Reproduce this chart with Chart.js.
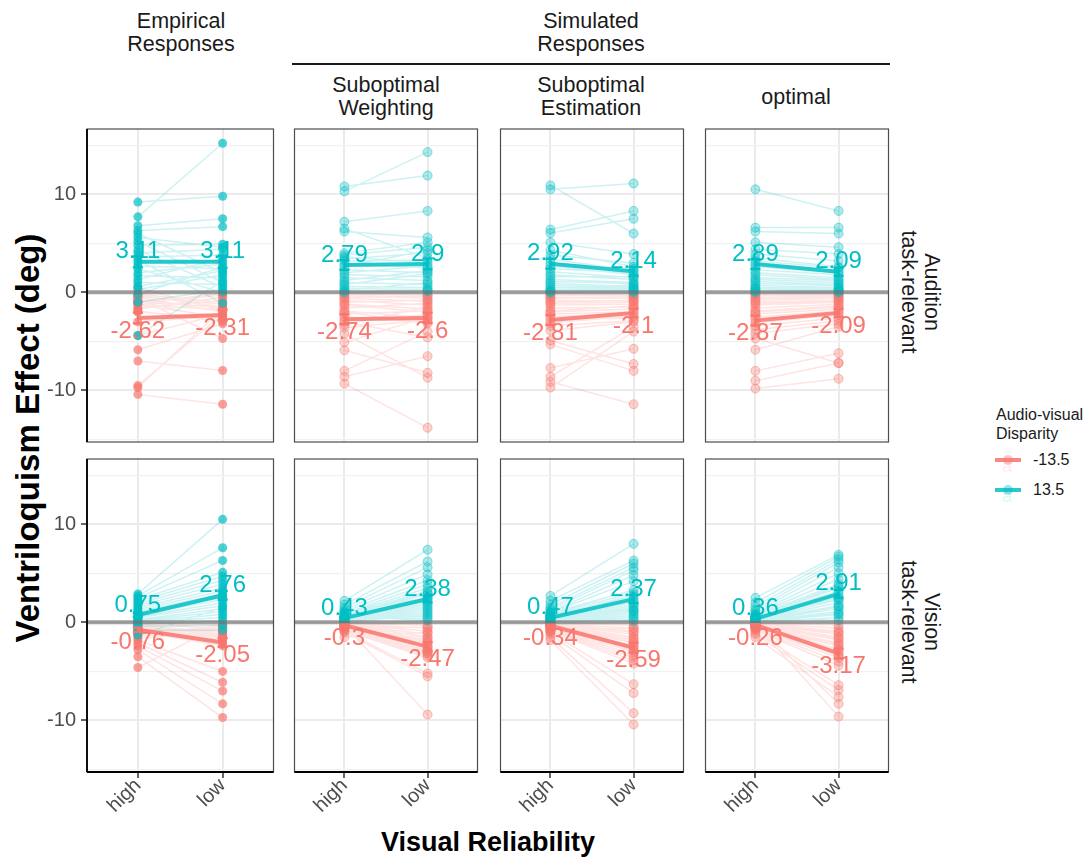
<!DOCTYPE html>
<html><head><meta charset="utf-8">
<script src="https://cdn.jsdelivr.net/npm/chart.js@4.4.0/dist/chart.umd.min.js"></script>
<style>
html,body{margin:0;padding:0;background:#fff;}
#wrap{position:relative;width:1086px;height:857px;overflow:hidden;font-family:"Liberation Sans",Arial,Helvetica,sans-serif;}
canvas{position:absolute;}
.t{position:absolute;color:#1a1a1a;font-size:21.5px;line-height:23px;text-align:center;white-space:nowrap;}
.rot{transform:rotate(90deg);}
.leg{position:absolute;font-size:16px;color:#1a1a1a;white-space:nowrap;}
</style></head><body><div id="wrap">
<div class="t" style="left:81px;top:10px;width:200px;">Empirical<br>Responses</div>
<div class="t" style="left:441px;top:10px;width:300px;">Simulated<br>Responses</div>
<div style="position:absolute;left:292px;top:63px;width:598px;height:2px;background:#1a1a1a;"></div>
<div class="t" style="left:286px;top:74px;width:200px;">Suboptimal<br>Weighting</div>
<div class="t" style="left:491px;top:74px;width:200px;">Suboptimal<br>Estimation</div>
<div class="t" style="left:696px;top:86px;width:200px;">optimal</div>
<div class="t rot" style="left:763px;top:269px;width:313px;height:46px;">Audition<br>task-relevant</div>
<div class="t rot" style="left:763px;top:599px;width:313px;height:46px;">Vision<br>task-relevant</div>
<div style="position:absolute;left:-272px;top:420px;width:600px;height:36px;transform:rotate(-90deg);text-align:center;font-weight:bold;font-size:33px;line-height:36px;color:#000;white-space:nowrap;">Ventriloquism Effect (deg)</div>
<div style="position:absolute;left:188px;top:827px;width:600px;height:30px;text-align:center;font-weight:bold;font-size:27px;line-height:30px;color:#000;">Visual Reliability</div>
<div class="leg" style="left:996px;top:405px;line-height:19px;">Audio-visual<br>Disparity</div>
<div id="legendKeys"></div>
</div>
<script>
// ---------- data ----------
const categories = ['high', 'low'];
const disparityLevels = ['-13.5', '13.5'];
const columnLabels = ['Empirical Responses', 'Suboptimal Weighting', 'Suboptimal Estimation', 'optimal'];
const rowLabels = ['Audition task-relevant', 'Vision task-relevant'];
const yTicks = [-15, -10, -5, 0, 5, 10, 15];
const zeroLine = 0;

// Panel 1: Empirical / Audition
const p1TealHigh = [7.7, 9.2, 6.8, 6.3, 6.0, 5.6, 5.2, 4.8, 4.3, 4.0, 3.6, 3.3, 3.0, 2.7, 2.4, 2.0, 1.7, 1.3, 1.0, 0.6, 0.3, -0.2, -1.0, -4.4];
const p1TealLow  = [15.2, 9.8, 7.5, 6.7, 2.0, 4.6, 1.0, 4.9, 0.5, 4.4, 3.8, -1.1, 3.2, 2.4, 0.0, 2.9, 1.5, 3.5, 0.8, 2.2, 1.8, 2.6, 0.3, 1.2];
const p1RedHigh  = [-0.2, -0.6, -1.0, -1.3, -1.6, -1.9, -1.0, -0.5, -0.3, -1.7, -0.9, -1.2, 0.5, -0.4, -4.4, -5.85, -7.0, -9.5, -9.7, -10.4, -1.1, -2.0, -0.8, -3.0];
const p1RedLow   = [-1.0, -4.7, -0.3, -2.5, -0.8, -3.0, -1.5, -2.0, -1.5, -0.5, -2.8, -1.8, -1.9, -1.2, -2.2, -3.2, -7.96, -2.2, -1.7, -11.4, -0.1, -2.6, -1.6, -2.4];
// Panel 2: Suboptimal Weighting / Audition
const p2TealHigh = [10.3, 10.8, 7.2, 6.5, 6.2, 3.8, 3.4, 4.0, 3.6, 3.2, 2.9, 2.6, 2.3, 2.0, 1.8, 1.5, 1.2, 1.0, 0.8, 0.6, 0.4, 0.2, 0.1, 0.0];
const p2TealLow  = [14.3, 11.9, 8.3, 3.5, 5.6, 4.6, 4.0, 5.1, 3.0, 3.3, 2.5, 4.3, 2.0, 2.7, 1.6, 1.2, 2.2, 0.8, 1.9, 0.5, 0.3, 1.0, 0.2, 0.1];
const p2RedHigh  = [-0.1, -0.3, -0.5, -0.8, -1.0, -1.3, -1.6, -1.9, -2.2, -2.5, -2.8, -3.0, -3.3, -3.6, -4.2, -5.1, -5.9, -8.0, -8.6, -9.3, -0.6, -1.2, -2.0, -0.2];
const p2RedLow   = [-0.2, -0.6, -0.4, -1.3, -0.8, -2.0, -1.1, -2.6, -1.9, -3.0, -2.3, -4.6, -1.5, -2.8, -8.7, -2.5, -8.2, -4.0, -6.5, -13.8, -0.9, -1.7, -3.2, -0.3];
// Panel 3: Suboptimal Estimation / Audition
const p3TealHigh = [10.9, 10.5, 6.4, 6.05, 5.1, 4.3, 3.8, 3.4, 3.0, 2.7, 2.4, 2.1, 1.8, 1.6, 1.3, 1.1, 0.9, 0.7, 0.5, 0.3, 0.2, 0.1, 0.05, 0.0];
const p3TealLow  = [6.0, 11.1, 8.3, 7.5, 3.9, 2.6, 3.0, 2.2, 2.4, 1.8, 2.0, 1.5, 1.3, 1.6, 1.0, 0.9, 0.6, 0.5, 0.4, 0.3, 0.2, 0.8, 0.1, 0.0];
const p3RedHigh  = [-0.1, -0.3, -0.5, -0.8, -1.0, -1.3, -1.6, -1.9, -2.2, -2.5, -2.8, -3.1, -3.4, -3.9, -4.9, -5.3, -7.7, -8.6, -9.1, -9.7, -0.6, -1.1, -2.0, -0.2];
const p3RedLow   = [-0.2, -0.4, -0.6, -0.9, -0.8, -1.2, -1.5, -1.4, -2.0, -2.1, -2.6, -2.4, -2.9, -3.0, -7.3, -8.0, -5.75, -3.5, -11.4, -4.0, -0.5, -1.0, -1.7, -0.3];
// Panel 4: optimal / Audition
const p4TealHigh = [10.5, 6.6, 6.2, 5.1, 4.4, 3.9, 3.5, 3.2, 2.9, 2.6, 2.3, 2.0, 1.8, 1.5, 1.3, 1.1, 0.9, 0.7, 0.5, 0.4, 0.3, 0.2, 0.1, 0.0];
const p4TealLow  = [8.3, 6.6, 6.0, 4.6, 3.9, 3.2, 2.6, 2.5, 2.2, 2.0, 1.8, 1.5, 1.3, 1.2, 1.0, 0.8, 0.7, 0.5, 0.4, 0.3, 0.2, 0.2, 0.1, 0.0];
const p4RedHigh  = [-0.1, -0.3, -0.5, -0.8, -1.0, -1.3, -1.6, -1.9, -2.2, -2.5, -2.8, -3.1, -3.4, -3.8, -4.7, -5.85, -8.0, -9.0, -9.8, -0.6, -1.1, -2.0, -0.2, -4.2];
const p4RedLow   = [-0.1, -0.3, -0.4, -0.6, -0.8, -1.0, -1.2, -1.4, -1.7, -1.9, -2.1, -2.3, -2.6, -2.9, -7.2, -3.5, -6.2, -7.2, -8.8, -0.5, -0.9, -1.5, -0.2, -3.2];
// Panel 5: Empirical / Vision
const p5TealHigh = [2.9, 2.7, 2.5, 2.3, 2.1, 1.9, 1.7, 1.5, 1.3, 1.1, 0.9, 0.8, 0.6, 0.5, 0.3, 0.2, 0.1, 0.0, -0.2, -0.4, -0.8, -1.3, 1.0, 0.4];
const p5TealLow  = [10.5, 7.6, 6.3, 5.1, 4.7, 4.3, 3.9, 3.5, 3.2, 2.9, 2.6, 2.3, 2.0, 1.7, 1.4, 1.1, 0.8, 0.5, 0.2, -0.3, -0.8, 1.5, 2.5, 3.0];
const p5RedHigh  = [-0.1, -0.2, -0.3, -0.4, -0.5, -0.6, -0.7, -0.8, -0.9, -1.0, -1.1, -1.2, -1.4, -1.6, -1.8, -2.1, -2.4, -2.8, -3.5, -4.6, 0.2, -0.3, -0.6, -1.0];
const p5RedLow   = [-0.3, -0.6, -1.0, -1.3, -1.6, -1.8, -2.0, -2.2, -2.4, -1.4, -0.4, -0.6, -0.9, -1.1, -5.0, -6.1, -7.0, -8.3, -9.7, -0.2, -0.8, -1.2, -1.5, -0.5];
// Panel 6: Suboptimal Weighting / Vision
const p6TealHigh = [2.2, 1.8, 1.5, 1.3, 1.1, 0.9, 0.8, 0.7, 0.6, 0.5, 0.4, 0.35, 0.3, 0.25, 0.2, 0.15, 0.1, 0.05, 0.0, 0.45, 0.55, 0.65, 0.75, 1.0];
const p6TealLow  = [7.4, 6.2, 5.6, 4.9, 4.3, 3.9, 3.5, 3.2, 2.9, 2.6, 2.4, 2.2, 2.0, 1.8, 1.6, 1.4, 1.2, 1.0, 0.8, 0.6, 0.4, 0.2, 3.0, 2.5];
const p6RedHigh  = [-0.05, -0.1, -0.15, -0.2, -0.25, -0.3, -0.35, -0.4, -0.45, -0.5, -0.55, -0.6, -0.7, -0.8, -0.9, -1.0, -0.3, -1.5, 0.0, -0.1, -0.2, -0.3, -0.4, -0.5];
const p6RedLow   = [-0.3, -0.6, -0.9, -1.2, -1.5, -1.8, -2.1, -2.4, -2.6, -2.8, -3.0, -3.2, -3.4, -3.6, -5.2, -5.5, -9.4, -1.0, -1.6, -2.0, -2.5, -2.9, -3.1, -0.5];
// Panel 7: Suboptimal Estimation / Vision
const p7TealHigh = [2.7, 2.2, 1.8, 1.5, 1.3, 1.1, 0.95, 0.85, 0.75, 0.65, 0.55, 0.45, 0.35, 0.3, 0.25, 0.2, 0.15, 0.1, 0.05, 0.0, 0.4, 0.6, 0.8, 1.0];
const p7TealLow  = [8.0, 6.3, 6.0, 5.6, 5.3, 4.8, 3.3, 3.0, 2.6, 2.3, 2.1, 1.9, 1.7, 1.5, 1.3, 1.1, 0.9, 0.7, 0.5, 0.3, 0.1, 2.8, 1.2, 4.2];
const p7RedHigh  = [-0.05, -0.1, -0.15, -0.2, -0.25, -0.3, -0.35, -0.4, -0.45, -0.5, -0.6, -0.7, -0.8, -0.9, -1.0, -1.2, -1.5, -1.8, -0.1, -0.2, -0.3, -0.4, -0.6, -0.8];
const p7RedLow   = [-0.3, -0.6, -0.9, -1.2, -1.5, -1.8, -2.1, -2.4, -2.7, -3.0, -3.3, -3.6, -3.9, -4.2, -6.3, -7.2, -9.25, -10.4, -1.0, -1.6, -2.0, -2.5, -2.9, -0.6];
// Panel 8: optimal / Vision
const p8TealHigh = [2.5, 2.0, 1.6, 1.3, 1.1, 0.9, 0.8, 0.7, 0.6, 0.5, 0.4, 0.35, 0.3, 0.25, 0.2, 0.15, 0.1, 0.05, 0.0, 0.45, 0.55, 0.65, 0.2, 0.1];
const p8TealLow  = [6.9, 6.7, 6.4, 6.1, 5.6, 5.0, 4.4, 3.9, 3.5, 3.2, 2.9, 2.6, 2.3, 2.0, 1.7, 1.4, 1.1, 0.8, 0.5, 0.2, 3.7, 2.4, 1.6, 0.9];
const p8RedHigh  = [-0.05, -0.1, -0.15, -0.2, -0.25, -0.3, -0.35, -0.4, -0.45, -0.5, -0.55, -0.6, -0.7, -0.8, -1.0, -1.2, -1.5, -0.1, -0.2, -0.3, -0.4, -0.5, -0.15, -0.25];
const p8RedLow   = [-0.3, -0.6, -0.9, -1.2, -1.5, -1.8, -2.1, -2.4, -2.7, -3.0, -3.3, -3.6, -4.0, -4.4, -6.4, -6.9, -7.6, -8.3, -9.6, -1.0, -1.6, -2.2, -2.8, -3.4];

// group means (labels) and standard errors, panels 1..8
const meanTealHigh = [3.11, 2.79, 2.92, 2.89, 0.75, 0.43, 0.47, 0.36];
const meanTealLow  = [3.11, 2.9, 2.14, 2.09, 2.76, 2.38, 2.37, 2.91];
const meanRedHigh  = [-2.62, -2.74, -2.81, -2.87, -0.76, -0.3, -0.34, -0.26];
const meanRedLow   = [-2.31, -2.6, -2.1, -2.09, -2.05, -2.47, -2.59, -3.17];
const seTealHigh = [0.55, 0.5, 0.5, 0.5, 0.2, 0.12, 0.14, 0.12];
const seTealLow  = [0.6, 0.55, 0.45, 0.4, 0.45, 0.35, 0.4, 0.4];
const seRedHigh  = [0.55, 0.5, 0.5, 0.5, 0.22, 0.1, 0.1, 0.08];
const seRedLow   = [0.55, 0.5, 0.45, 0.4, 0.45, 0.45, 0.5, 0.5];

// ---------- drawing ----------
const FONT = '"Liberation Sans", Arial, Helvetica, sans-serif';
Chart.defaults.font.family = FONT;
const TEAL = '0,191,196', RED = '248,118,109';
const rgba = (c, a) => 'rgba(' + c + ',' + a + ')';

const panels = [
  [p1TealHigh, p1TealLow, p1RedHigh, p1RedLow],
  [p2TealHigh, p2TealLow, p2RedHigh, p2RedLow],
  [p3TealHigh, p3TealLow, p3RedHigh, p3RedLow],
  [p4TealHigh, p4TealLow, p4RedHigh, p4RedLow],
  [p5TealHigh, p5TealLow, p5RedHigh, p5RedLow],
  [p6TealHigh, p6TealLow, p6RedHigh, p6RedLow],
  [p7TealHigh, p7TealLow, p7RedHigh, p7RedLow],
  [p8TealHigh, p8TealLow, p8RedHigh, p8RedLow]
];

function pairData(h, l) {
  const d = [];
  h.forEach((v, i) => { d.push({x: 1, y: v}, {x: 2, y: l[i]}, {x: 1.5, y: null}); });
  return d;
}
function errData(mh, sh, ml, sl) {
  const d = [], w = 0.06;
  [[1, mh, sh], [2, ml, sl]].forEach(([x, m, s]) => {
    const lo = m - s, hi = m + s;
    d.push({x: x, y: lo}, {x: x, y: hi}, {x: x, y: null});
    d.push({x: x - w, y: lo}, {x: x + w, y: lo}, {x: x, y: null});
    d.push({x: x - w, y: hi}, {x: x + w, y: hi}, {x: x, y: null});
  });
  return d;
}

const meanLabelPlugin = {
  id: 'meanLabels',
  afterDatasetsDraw(chart, args, opts) {
    const {ctx} = chart; const xs = chart.scales.x, ys = chart.scales.y;
    ctx.save();
    ctx.font = '24px ' + FONT; ctx.textAlign = 'center'; ctx.textBaseline = 'middle';
    (opts.items || []).forEach(it => {
      ctx.fillStyle = it.color;
      ctx.fillText(String(it.value), xs.getPixelForValue(it.x), ys.getPixelForValue(it.value) + it.dy);
    });
    ctx.restore();
  }
};
const borderPlugin = {
  id: 'panelBorder',
  afterDraw(chart, args, opts) {
    const a = chart.chartArea, ctx = chart.ctx;
    ctx.save();
    ctx.strokeStyle = '#4d4d4d'; ctx.lineWidth = 1.2;
    ctx.strokeRect(a.left, a.top, a.right - a.left, a.bottom - a.top);
    ctx.strokeStyle = '#000'; ctx.lineWidth = 1.8;
    if (opts.left) { ctx.beginPath(); ctx.moveTo(a.left, a.top); ctx.lineTo(a.left, a.bottom); ctx.stroke(); }
    if (opts.bottom) { ctx.beginPath(); ctx.moveTo(a.left, a.bottom); ctx.lineTo(a.right, a.bottom); ctx.stroke(); }
    ctx.restore();
  }
};

const PANEL_W = 188, PANEL_H = 313, PAD_T = 20, PAD_R = 3;
const colLeft = [87, 292, 498, 703];
const rowTop = [129, 459];
const wrap = document.getElementById('wrap');

panels.forEach((p, k) => {
  const r = Math.floor(k / 4), c = k % 4;
  const padL = c === 0 ? 87 : 3;
  const padB = r === 1 ? 75 : 22;
  const cv = document.createElement('canvas');
  const W = padL + PANEL_W + PAD_R, H = PAD_T + PANEL_H + padB;
  cv.width = W; cv.height = H;
  cv.style.left = (colLeft[c] - padL) + 'px';
  cv.style.top = (rowTop[r] - PAD_T) + 'px';
  cv.style.width = W + 'px'; cv.style.height = H + 'px';
  wrap.appendChild(cv);
  const empirical = c === 0;
  const ptA = empirical ? 0.7 : 0.32;
  const ptB = empirical ? 0 : 1;
  const [th, tl, rh, rl] = p;
  new Chart(cv.getContext('2d'), {
    type: 'line',
    data: {
      datasets: [
        { data: errData(meanTealHigh[k], seTealHigh[k], meanTealLow[k], seTealLow[k]), borderColor: rgba(TEAL, 1), borderWidth: 2.2, pointRadius: 0, spanGaps: false, order: 1 },
        { data: errData(meanRedHigh[k], seRedHigh[k], meanRedLow[k], seRedLow[k]), borderColor: rgba(RED, 1), borderWidth: 2.2, pointRadius: 0, spanGaps: false, order: 1 },
        { data: [{x: 1, y: meanTealHigh[k]}, {x: 2, y: meanTealLow[k]}], borderColor: rgba(TEAL, 0.85), borderWidth: 4, pointRadius: 0, order: 2 },
        { data: [{x: 1, y: meanRedHigh[k]}, {x: 2, y: meanRedLow[k]}], borderColor: rgba(RED, 0.85), borderWidth: 4, pointRadius: 0, order: 2 },
        { data: [{x: 0.4, y: zeroLine}, {x: 2.6, y: zeroLine}], borderColor: 'rgba(110,110,110,0.65)', borderWidth: 4, pointRadius: 0, order: 3 },
        { data: pairData(th, tl), borderColor: rgba(TEAL, 0.2), borderWidth: 1.5, pointRadius: 4.5,
          pointBackgroundColor: rgba(TEAL, ptA), pointBorderColor: rgba(TEAL, 0.45), pointBorderWidth: ptB, spanGaps: false, order: 4 },
        { data: pairData(rh, rl), borderColor: rgba(RED, 0.2), borderWidth: 1.5, pointRadius: 4.5,
          pointBackgroundColor: rgba(RED, ptA), pointBorderColor: rgba(RED, 0.45), pointBorderWidth: ptB, spanGaps: false, order: 5 }
      ]
    },
    options: {
      responsive: false, animation: false, events: [],
      layout: {padding: {top: PAD_T, right: PAD_R, left: 0, bottom: 0}},
      plugins: {
        legend: {display: false}, tooltip: {enabled: false},
        panelBorder: {left: c === 0, bottom: r === 1},
        meanLabels: {items: [
          {x: 1, value: meanTealHigh[k], color: rgba(TEAL, 1), dy: -10},
          {x: 2, value: meanTealLow[k], color: rgba(TEAL, 1), dy: -10},
          {x: 1, value: meanRedHigh[k], color: rgba(RED, 1), dy: 13},
          {x: 2, value: meanRedLow[k], color: rgba(RED, 1), dy: 13}
        ]}
      },
      scales: {
        x: {
          type: 'linear', min: 0.4, max: 2.6,
          afterBuildTicks: s => { s.ticks = [{value: 1}, {value: 2}]; },
          afterFit: s => { s.height = padB; },
          border: {display: false},
          grid: {color: '#ebebeb', lineWidth: 2, drawTicks: r === 1, tickLength: 6, tickColor: '#333', tickWidth: 1.5},
          ticks: {display: r === 1, minRotation: 45, maxRotation: 45, autoSkip: false, padding: -4, color: '#4d4d4d',
                  font: {size: 20, family: FONT}, callback: v => categories[Math.round(v) - 1]}
        },
        y: {
          type: 'linear', min: -15.25, max: 16.65,
          afterBuildTicks: s => { s.ticks = yTicks.map(v => ({value: v})); },
          afterFit: s => { s.width = padL; },
          border: {display: false},
          grid: {
            color: ctx => (ctx.tick && ctx.tick.value % 10 === 0) ? '#ebebeb' : '#f1f1f1',
            lineWidth: ctx => (ctx.tick && ctx.tick.value % 10 === 0) ? 2 : 1.2,
            drawTicks: c === 0, tickLength: 6, tickWidth: 1.5,
            tickColor: ctx => (ctx.tick && ctx.tick.value % 10 === 0) ? '#333' : 'rgba(0,0,0,0)'
          },
          ticks: {display: c === 0, padding: 5, color: '#4d4d4d', font: {size: 20, family: FONT},
                  callback: v => (v % 10 === 0 ? String(v) : '')}
        }
      }
    },
    plugins: [meanLabelPlugin, borderPlugin]
  });
});

// legend keys
const keyBox = document.getElementById('legendKeys');
[[RED, disparityLevels[0], 460], [TEAL, disparityLevels[1], 490]].forEach(([col, lab, cy]) => {
  keyBox.insertAdjacentHTML('beforeend',
    '<div style="position:absolute;left:995px;top:' + (cy - 2) + 'px;width:26px;height:4px;background:' + rgba(col, 0.85) + ';"></div>' +
    '<div style="position:absolute;left:1003px;top:' + (cy - 5) + 'px;width:10px;height:10px;border-radius:50%;background:' + rgba(col, 0.4) + ';"></div>' +
    '<div class="leg" style="left:1002px;top:' + (cy - 4) + 'px;line-height:20px;font-size:18px;color:' + rgba(col, 0.15) + ';">a</div>' +
    '<div class="leg" style="left:1033px;top:' + (cy - 10) + 'px;line-height:20px;">' + lab + '</div>');
});
</script>
</body></html>
